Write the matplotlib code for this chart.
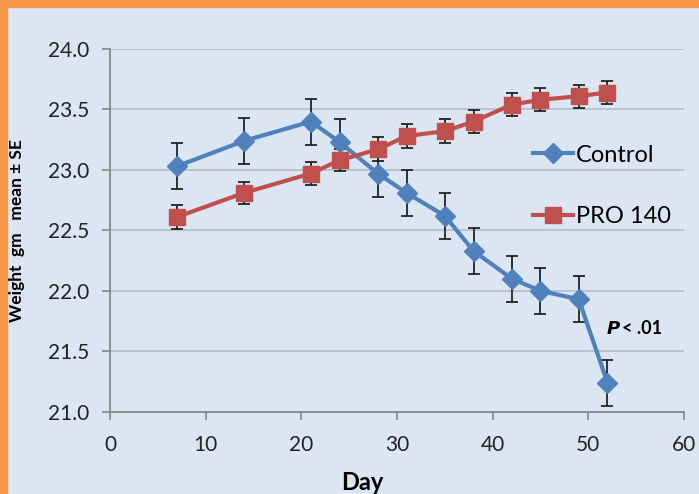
import matplotlib
matplotlib.use('Agg')
from matplotlib import pyplot as plt
from matplotlib.patches import Rectangle

# days of measurement
days = [7, 14, 21, 24, 28, 31, 35, 38, 42, 45, 49, 52]

control_mean = [23.03, 23.24, 23.40, 23.23, 22.97, 22.81, 22.62, 22.33, 22.10, 22.00, 21.93, 21.24]
control_se   = [0.19, 0.19, 0.19, 0.19, 0.19, 0.19, 0.19, 0.19, 0.19, 0.19, 0.19, 0.19]

pro_mean = [22.61, 22.81, 22.97, 23.08, 23.17, 23.28, 23.32, 23.40, 23.54, 23.58, 23.61, 23.64]
pro_se   = [0.10, 0.09, 0.095, 0.09, 0.10, 0.097, 0.097, 0.094, 0.097, 0.094, 0.095, 0.095]

x_ticks = [0, 10, 20, 30, 40, 50, 60]
y_ticks = [21.0, 21.5, 22.0, 22.5, 23.0, 23.5, 24.0]

bg     = '#dce6f2'
blue   = '#4f81bd'
red    = '#c0504d'
orange = '#f79646'

plt.rcParams['font.family'] = ['Lato', 'DejaVu Sans']

fig = plt.figure(figsize=(6.99, 4.94), dpi=100, facecolor=bg)
ax  = fig.add_axes([0.1574, 0.1666, 0.8211, 0.7342])
ax.set_facecolor(bg)

# orange frame strips (left + top)
fig.patches.append(Rectangle((0, 0), 7/699, 1, transform=fig.transFigure,
                             color=orange, zorder=0))
fig.patches.append(Rectangle((0, 1 - 7/494), 1, 7/494, transform=fig.transFigure,
                             color=orange, zorder=0))

ax.errorbar(days, control_mean, yerr=control_se, color=blue, lw=3, marker='D',
            ms=10, ecolor='#222222', elinewidth=1.3, capsize=4, capthick=1.3,
            label='Control', zorder=3)
ax.errorbar(days, pro_mean, yerr=pro_se, color=red, lw=3, marker='s',
            ms=11, ecolor='#222222', elinewidth=1.3, capsize=4, capthick=1.3,
            label='PRO 140', zorder=3)

ax.set_xlim(0, 60)
ax.set_ylim(21.0, 24.0)
ax.set_xticks(x_ticks)
ax.set_yticks(y_ticks)
ax.set_yticklabels([f'{v:.1f}' for v in y_ticks])
ax.tick_params(axis='both', labelsize=15, colors='#888888', labelcolor='#222222',
               length=6, width=1.2)
ax.tick_params(axis='y', pad=9)
ax.tick_params(axis='x', pad=11)
ax.grid(axis='y', color='#b8c0ca', lw=1.3)
ax.set_axisbelow(True)
for s in ['top', 'right']:
    ax.spines[s].set_visible(False)
for s in ['left', 'bottom']:
    ax.spines[s].set_color('#888888')
    ax.spines[s].set_linewidth(1.3)

fig.text(17/699, 1 - 231/494, 'Weight  gm   mean ± SE', fontsize=12.5, fontweight='bold',
         rotation=90, ha='center', va='center')
ax.set_xlabel('Day', fontsize=17, fontweight='bold')
ax.xaxis.set_label_coords(0.44, -0.164)

ax.text(51.9, 21.69, r'$\mathbfit{P}$', fontsize=13, ha='left', va='center')
ax.text(53.5, 21.69, '< .01', fontsize=13, fontweight='bold', ha='left', va='center')

handles, labels = ax.get_legend_handles_labels()
handles = [h[0] for h in handles]
ax.legend(handles, labels, loc='upper left', bbox_to_anchor=(0.70, 0.795),
          frameon=False, fontsize=17, labelspacing=1.72, handlelength=1.7,
          handletextpad=0.1)

fig.savefig('out.png', dpi=100, facecolor=bg)
